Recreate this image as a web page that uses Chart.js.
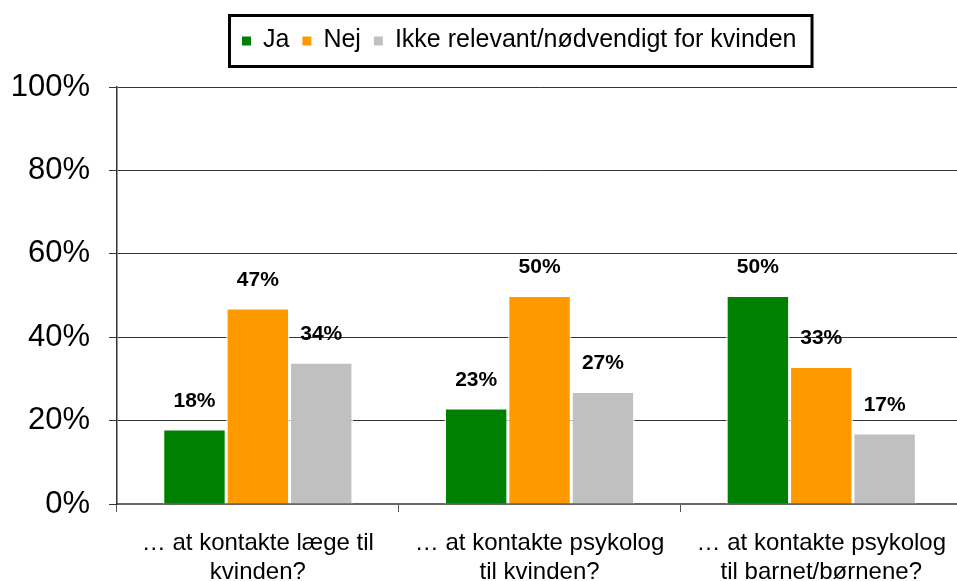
<!DOCTYPE html>
<html>
<head>
<meta charset="utf-8">
<script src="https://cdn.jsdelivr.net/npm/chart.js@4/dist/chart.umd.min.js"></script>
<style>
html,body{margin:0;padding:0;background:#fff;overflow:hidden;}
#wrap{position:relative;width:963px;height:581px;}
</style>
</head>
<body>
<div id="wrap"><canvas id="c" width="963" height="581"></canvas></div>
<script>
const categories = [
  ["… at kontakte læge til", "kvinden?"],
  ["… at kontakte psykolog", "til kvinden?"],
  ["… at kontakte psykolog", "til barnet/børnene?"]
];
const seriesNames = ["Ja", "Nej", "Ikke relevant/nødvendigt for kvinden"];
const jaValues = [18, 23, 50];
const nejValues = [47, 50, 33];
const ikkeValues = [34, 27, 17];
const yTicks = [0, 20, 40, 60, 80, 100];
const colors = ["#008000", "#FF9900", "#C0C0C0"];

const FONT = "'Liberation Sans', Arial, sans-serif";

const valueLabels = {
  id: 'valueLabels',
  afterDatasetsDraw(chart) {
    const ctx = chart.ctx;
    ctx.save();
    ctx.font = "bold 21px " + FONT;
    ctx.fillStyle = "#000";
    ctx.textAlign = "center";
    ctx.textBaseline = "middle";
    chart.data.datasets.forEach((ds, i) => {
      chart.getDatasetMeta(i).data.forEach((bar, j) => {
        ctx.fillText(ds.data[j] + "%", bar.x, bar.y - 28);
      });
    });
    ctx.restore();
  }
};

const boxedLegend = {
  id: 'boxedLegend',
  afterDraw(chart) {
    const ctx = chart.ctx;
    ctx.save();
    ctx.font = "25px " + FONT;
    ctx.textBaseline = "middle";
    const cy = 40;
    let x = 242;
    const sq = 9, gapText = 12, gapItem = 13;
    const startX = x;
    chart.data.datasets.forEach((ds) => {
      ctx.fillStyle = ds.backgroundColor;
      ctx.fillRect(x, cy - sq / 2 + 1, sq, sq);
      x += sq + gapText;
      ctx.fillStyle = "#000";
      ctx.textAlign = "left";
      ctx.fillText(ds.label, x, cy);
      x += ctx.measureText(ds.label).width + gapItem;
    });
    const endX = x - gapItem;
    ctx.strokeStyle = "#000";
    ctx.lineWidth = 3;
    ctx.strokeRect(startX - 12.5, 15.5, (endX - startX) + 12 + 16, 51);
    ctx.restore();
  }
};

new Chart(document.getElementById('c'), {
  type: 'bar',
  data: {
    labels: categories,
    datasets: [
      { label: seriesNames[0], data: jaValues, backgroundColor: colors[0] },
      { label: seriesNames[1], data: nejValues, backgroundColor: colors[1] },
      { label: seriesNames[2], data: ikkeValues, backgroundColor: colors[2] }
    ]
  },
  options: {
    responsive: false,
    animation: false,
    layout: { padding: { top: 87, left: 0, right: 0, bottom: 0 } },
    plugins: {
      legend: { display: false },
      tooltip: { enabled: false },
      title: { display: false }
    },
    datasets: { bar: { categoryPercentage: 0.675, barPercentage: 1.0, borderColor: "rgba(255,255,255,0.9)", borderWidth: 1.5 } },
    scales: {
      x: {
        grid: { offset: true, drawOnChartArea: false, drawTicks: true, tickLength: 8, color: "#555" },
        border: { display: true, color: "#666", width: 2 },
        ticks: { color: "#000", font: { family: FONT, size: 24, lineHeight: 1.2 }, padding: 17, maxRotation: 0 },
        afterFit(s) { s.height = 77; }
      },
      y: {
        min: 0, max: 100,
        afterBuildTicks(s) { s.ticks = yTicks.map(v => ({ value: v })); },
        grid: { color: "#333", lineWidth: 1, tickLength: 8, drawTicks: true },
        border: { display: true, color: "#333", width: 1.5 },
        ticks: { color: "#000", font: { family: FONT, size: 31 }, padding: 19, callback: v => v + "%" },
        afterFit(s) { s.width = 117; }
      }
    }
  },
  plugins: [valueLabels, boxedLegend]
});
</script>
</body>
</html>
